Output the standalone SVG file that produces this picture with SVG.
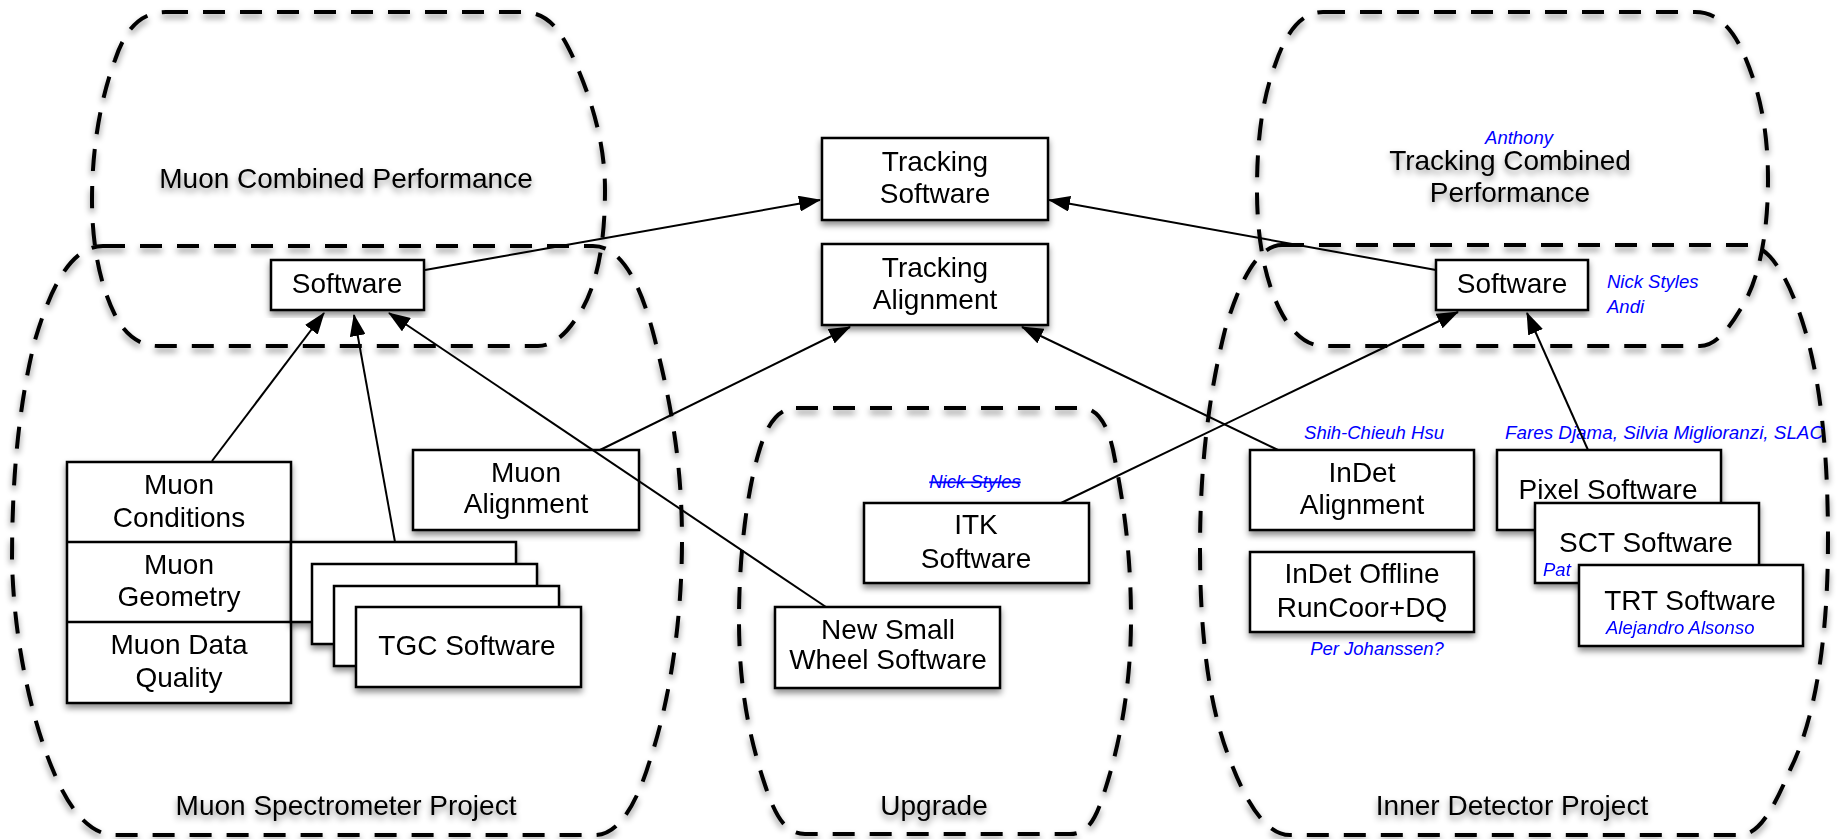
<svg xmlns="http://www.w3.org/2000/svg" width="1841" height="839" viewBox="0 0 1841 839">
<defs>
<filter id="sh" x="-10%" y="-10%" width="120%" height="125%">
<feDropShadow dx="0" dy="4" stdDeviation="3" flood-color="#000" flood-opacity="0.45"/>
</filter>
<marker id="ah" markerUnits="userSpaceOnUse" markerWidth="22" markerHeight="16" refX="21" refY="8" orient="auto">
<path d="M0,0 L22,8 L0,16 Z" fill="#000"/>
</marker>
<style>
.reg{fill:none;stroke:#000;stroke-width:4;stroke-dasharray:22 15}
.box{fill:#fff;stroke:#000;stroke-width:2.5}
.t{font-family:"Liberation Sans",Arial,Helvetica,sans-serif;font-size:28px;fill:#000;text-anchor:middle}
.n{font-family:"Liberation Sans",Arial,sans-serif;font-style:italic;font-size:18.5px;fill:#0000ff}
.c{fill:none;stroke:#000;stroke-width:2;marker-end:url(#ah)}
</style>
</defs>
<rect width="1841" height="839" fill="#fff"/>

<g id="regions" filter="url(#sh)">
<g id="muon-cp">
<path class="reg" d="M166,12 H522 C548,12 560,30 572,55 C590,95 605,140 605,190 C605,240 598,290 575,320 C565,335 552,346 538,346 H158 C140,346 125,335 115,315 C100,285 92,245 92,200 C92,150 100,100 115,60 C125,30 140,12 166,12 Z"/>
<text class="t" x="346" y="188">Muon Combined Performance</text>
</g>
<g id="muon-spec">
<path class="reg" d="M103,246 H593 C620,246 640,280 655,340 C670,400 682,460 682,540 C682,620 670,700 650,760 C638,800 620,835 595,835 H115 C90,835 70,810 55,775 C35,730 14,650 12,560 C12,470 20,400 35,340 C50,290 70,246 103,246 Z"/>
<text class="t" x="346" y="815">Muon Spectrometer Project</text>
</g>
<g id="upgrade">
<path class="reg" d="M796,408 H1082 C1100,408 1110,430 1115,460 C1125,510 1131,560 1131,620 C1131,690 1118,750 1105,790 C1097,815 1090,834 1070,834 H805 C785,834 775,815 765,785 C750,740 739,690 739,620 C739,550 748,490 758,455 C765,430 775,408 796,408 Z"/>
<text class="t" x="934" y="815">Upgrade</text>
</g>
<g id="tracking-cp">
<path class="reg" d="M1323,12 H1695 C1715,12 1730,25 1742,50 C1760,90 1768,130 1768,180 C1768,230 1760,280 1740,310 C1728,330 1715,346 1700,346 H1323 C1305,346 1290,330 1280,310 C1265,280 1257,240 1257,190 C1257,140 1262,100 1275,65 C1285,35 1300,12 1323,12 Z"/>
<text class="t" x="1510" y="170">Tracking Combined</text>
<text class="t" x="1510" y="202">Performance</text>
</g>
<g id="inner-detector">
<path class="reg" d="M1282,245 H1748 C1770,245 1790,280 1805,330 C1820,380 1828,450 1828,540 C1828,640 1815,720 1790,770 C1775,805 1760,835 1740,835 H1290 C1265,835 1245,800 1230,760 C1210,710 1200,640 1200,550 C1200,460 1210,390 1225,330 C1240,280 1258,245 1282,245 Z"/>
<text class="t" x="1512" y="815">Inner Detector Project</text>
</g>
</g>

<g id="nodes">
<g id="tracking-software" filter="url(#sh)">
<rect class="box" x="822" y="138" width="226" height="82"/>
<text class="t" x="935" y="171">Tracking</text>
<text class="t" x="935" y="203">Software</text>
</g>
<g id="tracking-alignment" filter="url(#sh)">
<rect class="box" x="822" y="244" width="226" height="81"/>
<text class="t" x="935" y="277">Tracking</text>
<text class="t" x="935" y="309">Alignment</text>
</g>
<g id="muon-software" filter="url(#sh)">
<rect class="box" x="271" y="260" width="153" height="50"/>
<text class="t" x="347" y="293">Software</text>
</g>
<g id="id-software" filter="url(#sh)">
<rect class="box" x="1436" y="260" width="152" height="50"/>
<text class="t" x="1512" y="293">Software</text>
</g>
<g id="muon-stack" filter="url(#sh)">
<rect class="box" x="67" y="462" width="224" height="241"/>
<line x1="67" y1="542" x2="291" y2="542" stroke="#000" stroke-width="2.5"/>
<line x1="67" y1="622" x2="291" y2="622" stroke="#000" stroke-width="2.5"/>
<text class="t" x="179" y="494">Muon</text>
<text class="t" x="179" y="527">Conditions</text>
<text class="t" x="179" y="574">Muon</text>
<text class="t" x="179" y="606">Geometry</text>
<text class="t" x="179" y="654">Muon Data</text>
<text class="t" x="179" y="687">Quality</text>
</g>
<g id="tgc-stack" filter="url(#sh)">
<rect class="box" x="291" y="542" width="225" height="80"/>
<rect class="box" x="312" y="564" width="225" height="80"/>
<rect class="box" x="334" y="586" width="225" height="80"/>
<rect class="box" x="356" y="607" width="225" height="80"/>
<text class="t" x="467" y="655">TGC Software</text>
</g>
<g id="muon-alignment" filter="url(#sh)">
<rect class="box" x="413" y="450" width="226" height="80"/>
<text class="t" x="526" y="482">Muon</text>
<text class="t" x="526" y="513">Alignment</text>
</g>
<g id="itk" filter="url(#sh)">
<rect class="box" x="864" y="503" width="225" height="80"/>
<text class="t" x="976" y="534">ITK</text>
<text class="t" x="976" y="568">Software</text>
</g>
<g id="nsw" filter="url(#sh)">
<rect class="box" x="775" y="607" width="225" height="81"/>
<text class="t" x="888" y="639">New Small</text>
<text class="t" x="888" y="669">Wheel Software</text>
</g>
<g id="indet-alignment" filter="url(#sh)">
<rect class="box" x="1250" y="450" width="224" height="80"/>
<text class="t" x="1362" y="482">InDet</text>
<text class="t" x="1362" y="514">Alignment</text>
</g>
<g id="indet-offline" filter="url(#sh)">
<rect class="box" x="1250" y="552" width="224" height="80"/>
<text class="t" x="1362" y="583">InDet Offline</text>
<text class="t" x="1362" y="617">RunCoor+DQ</text>
</g>
<g id="pixel" filter="url(#sh)">
<rect class="box" x="1497" y="450" width="224" height="80"/>
<text class="t" x="1608" y="499">Pixel Software</text>
</g>
<g id="sct" filter="url(#sh)">
<rect class="box" x="1535" y="503" width="224" height="80"/>
<text class="t" x="1646" y="552">SCT Software</text>
<text class="n" x="1543" y="576">Pat</text>
</g>
<g id="trt" filter="url(#sh)">
<rect class="box" x="1579" y="565" width="224" height="81"/>
<text class="t" x="1690" y="610">TRT Software</text>
<text class="n" x="1606" y="634">Alejandro Alsonso</text>
</g>
</g>

<g id="annotations">
<text class="n" x="1519" y="144" text-anchor="middle">Anthony</text>
<text class="n" x="1607" y="288">Nick Styles</text>
<text class="n" x="1607" y="313">Andi</text>
<text class="n" x="975" y="488" text-anchor="middle" style="text-decoration:line-through">Nick Styles</text>
<text class="n" x="1374" y="439" text-anchor="middle">Shih-Chieuh Hsu</text>
<text class="n" x="1505" y="439" textLength="318" lengthAdjust="spacingAndGlyphs">Fares Djama, Silvia Miglioranzi, SLAC</text>
<text class="n" x="1377" y="655" text-anchor="middle">Per Johanssen?</text>
</g>

<g id="connectors">
<line class="c" x1="212" y1="461" x2="324" y2="313"/>
<line class="c" x1="395" y1="542" x2="354" y2="315"/>
<line class="c" x1="826" y1="607" x2="389" y2="313"/>
<line class="c" x1="425" y1="270" x2="820" y2="200"/>
<line class="c" x1="600" y1="450" x2="850" y2="327"/>
<line class="c" x1="1278" y1="450" x2="1022" y2="327"/>
<line class="c" x1="1436" y1="270" x2="1049" y2="200"/>
<line class="c" x1="1061" y1="503" x2="1458" y2="312"/>
<line class="c" x1="1588" y1="450" x2="1527" y2="313"/>
</g>
</svg>
